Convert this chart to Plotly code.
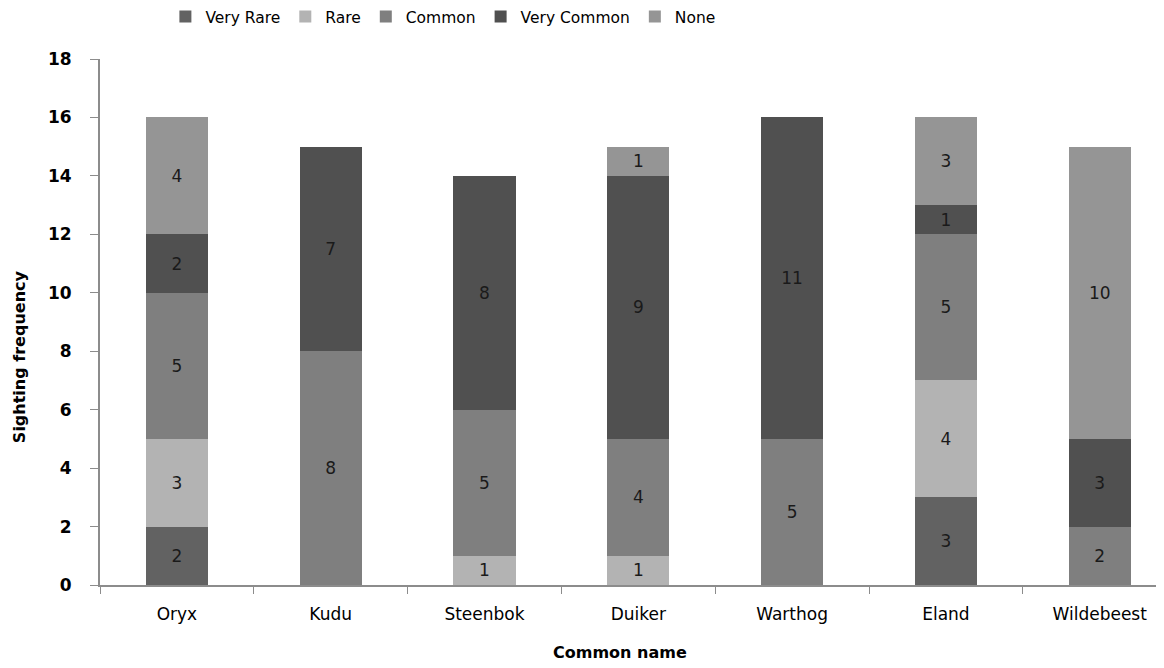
import plotly.graph_objects as go

categories = ["Oryx", "Kudu", "Steenbok", "Duiker", "Warthog", "Eland", "Wildebeest"]
very_rare = [2, 0, 0, 0, 0, 3, 0]
rare = [3, 0, 1, 1, 0, 4, 0]
common = [5, 8, 5, 4, 5, 5, 2]
very_common = [2, 7, 8, 9, 11, 1, 3]
none_vals = [4, 0, 0, 1, 0, 3, 10]

series = [
    ("Very Rare", very_rare, "#626262"),
    ("Rare", rare, "#b3b3b3"),
    ("Common", common, "#7f7f7f"),
    ("Very Common", very_common, "#505050"),
    ("None", none_vals, "#959595"),
]

FONT = "DejaVu Sans, sans-serif"

fig = go.Figure()
for name, vals, color in series:
    fig.add_trace(go.Bar(
        name=name, x=categories, y=[v if v else None for v in vals],
        marker=dict(color=color, line=dict(width=0)),
        text=[str(v) if v else "" for v in vals],
        textposition="inside", insidetextanchor="middle",
        textfont=dict(family=FONT, size=17, color="#1a1a1a"),
        width=0.405,
    ))

fig.update_layout(
    barmode="stack",
    width=1164, height=668,
    margin=dict(l=92, r=0, t=51, b=91, autoexpand=False),
    paper_bgcolor="white", plot_bgcolor="white",
    font=dict(family=FONT, color="#000000"),
    uniformtext=dict(mode=False),
    legend=dict(orientation="h", x=0.061, xref="paper", y=1.08, yanchor="middle",
                font=dict(size=15.5, family=FONT), itemwidth=30, traceorder="normal",
                bgcolor="rgba(0,0,0,0)"),
    showlegend=True,
    annotations=[
        dict(text="<b>Sighting frequency</b>", xref="paper", yref="paper",
             x=-0.0756, y=0.435, textangle=-90, showarrow=False,
             font=dict(size=16, family=FONT), xanchor="center", yanchor="middle"),
        dict(text="<b>Common name</b>", xref="paper", yref="paper",
             x=0.485, y=-0.128, showarrow=False,
             font=dict(size=16, family=FONT), xanchor="center", yanchor="middle"),
    ],
)
fig.update_xaxes(
    type="category", range=[-0.5, 6.47], automargin=False,
    showline=True, linecolor="#8c8c8c", linewidth=2,
    ticks="outside", tickson="boundaries", ticklen=7, tickcolor="#8c8c8c",
    tickfont=dict(size=17, family=FONT), showgrid=False,
    ticklabelstandoff=13,
)
fig.update_yaxes(
    range=[0, 18], dtick=2, automargin=False,
    showline=True, linecolor="#8c8c8c", linewidth=2,
    ticks="outside", ticklen=8, tickcolor="#8c8c8c",
    tickfont=dict(size=17, family=FONT), showgrid=False, zeroline=False,
    tickprefix="<b>", ticksuffix="</b>",
    ticklabelstandoff=15,
)

fig.write_html("out.html")
